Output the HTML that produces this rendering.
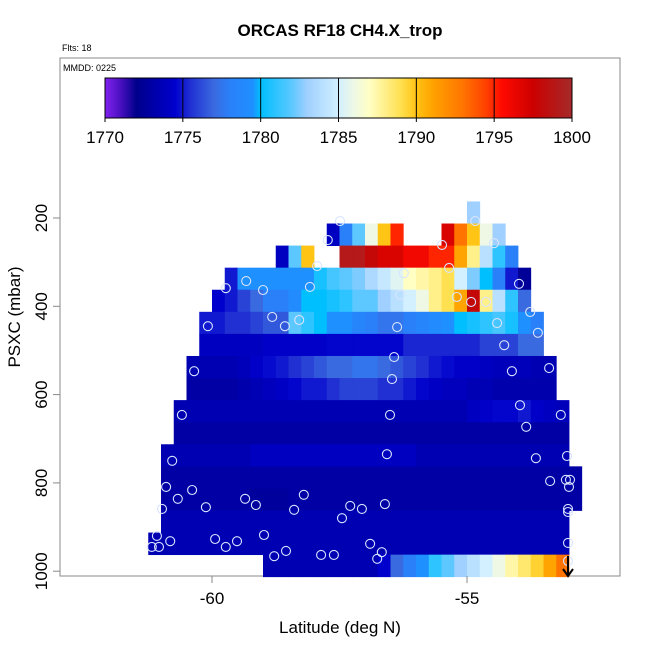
<!DOCTYPE html>
<html><head><meta charset="utf-8"><style>
body{margin:0;background:#fff;}
svg{display:block;font-family:"Liberation Sans",sans-serif;}
</style></head><body>
<svg id="chart" width="650" height="650" viewBox="0 0 650 650">
<defs><linearGradient id="cbgrad" x1="0" x2="1" y1="0" y2="0"></linearGradient></defs>
<text x="340" y="36" text-anchor="middle" font-size="17" font-weight="bold">ORCAS RF18 CH4.X_trop</text>
<text x="62" y="51" font-size="9">Flts: 18</text>
<rect x="60" y="58" width="560" height="518" fill="none" stroke="#888" stroke-width="1"/>
<text x="63" y="71" font-size="9">MMDD: 0225</text>
<g id="cells"></g>
<g id="points"></g>
<g id="colorbar"></g>
<g id="axes"></g>
<path d="M568,556 L568,575 M563,569 L568,576 L573,569" stroke="#000" stroke-width="2" fill="none"/>
<text x="340" y="633" text-anchor="middle" font-size="17">Latitude (deg N)</text>
<text transform="translate(20,317) rotate(-90)" text-anchor="middle" font-size="17">PSXC (mbar)</text>
</svg>
<script>
const xTicks=[-60,-55];
const yTicks=[200,400,600,800,1000];
const cbTicks=[1770,1775,1780,1785,1790,1795,1800];
const lonStart=-61.25, lonStep=0.25;
const pStart=162.5, pStep=50;
const rowStart=[25,14,10,6,5,4,4,3,3,2,2,1,1,1,1,0,9];
const B=1773.5, D=1773;
const rowValues=[
[1783],
[1774,1778,1782,1786,1790,1795,null,null,null,1797,1793,1790,1786,1783],
[1774,1782,1790,null,null,1799,1799,1798,1797,1797,1796,1796,1795,1795,1791,1788,1784,1781,1778],
[1775,1779.5,1779.5,1779.5,1779.5,1779.5,1779.5,1780.5,1781.5,1782,1782.5,1783.5,1784.5,1785.5,1787,1787.5,1788,1789,1785,1782.5,1780,1778,1775,1772.5],
[1774.5,1775,1776,1777,1778,1778,1779,1780,1780,1780.5,1781,1782,1782,1783,1784,1785,1786,1788,1789,1791,1798,1788,1784,1781,1777],
[1775,1775,1775.5,1775.5,1776,1776.5,1776.5,1782,1781,1780,1779.5,1779.5,1778.5,1778,1777.5,1777.5,1778,1778.5,1779,1779.5,1780,1780.5,1781,1781.5,1780.5,1779.5,1778],
[1774,1774,1774,1774,1774,1774.3,1774.3,1774.3,1774.3,1774.3,1774.6,1774.6,1774.6,1774.6,1774.6,1774.6,1775.3,1775.3,1775.3,1775.3,1775.3,1775.3,1776,1776,1776,1777,1777],
[1773.5,1773.5,1773.5,1773.5,1773.8,1774.3,1774.7,1775,1775.5,1776,1776.5,1777,1777,1777.5,1777.5,1777,1776.5,1776,1775.5,1775,1774.7,1774.3,1774.3,1774,1773.8,1773.8,1773.8,1773.5,1773.5],
[1773,1773,1773,1773,1773.3,1773.6,1773.9,1774.2,1774.6,1775,1775,1775.5,1776,1776,1776,1775.5,1775.5,1775,1774.6,1774.2,1773.9,1773.9,1773.6,1773.6,1773.3,1773.3,1773.3,1773.3,1773.3],
[B,B,B,B,B,B,B,B,B,B,B,B,B,B,B,B,B,B,B,B,B,B,B,1774,1774.3,1774.6,1774.6,1775,1774.3,1774,1773.8],
[D,D,D,D,D,D,D,D,D,D,D,D,D,D,D,D,D,D,D,D,D,D,D,D,D,D,D,D,D,D,D],
[B,B,B,B,B,B,B,1774,1774,1774,1774,1774,1774,1774,1774,1774,1774,1774,1774,1774,B,B,B,B,B,B,B,B,B,B,B,B],
[D,D,D,D,D,D,D,D,D,D,D,D,D,D,D,D,D,D,D,D,D,D,D,D,D,D,D,D,D,D,D,D,D],
[D,D,D,D,D,D,D,1772.7,1772.7,1772.7,D,D,D,D,D,D,D,D,D,D,D,D,D,D,D,D,D,D,D,D,D,D,D],
[B,B,B,B,B,B,B,B,B,B,B,B,B,B,B,B,B,B,B,B,B,B,B,B,B,B,B,B,B,B,B,B],
[B,B,B,B,B,B,B,B,B,B,B,B,B,B,B,B,B,B,B,B,B,B,B,B,B,B,B,B,B,B,B,B,B],
[B,B,B,B,B,B,B,B,B,1774.5,1777,1778,1779.5,1781,1782,1783,1784,1785,1786,1787.5,1788.5,1789.5,1791,1793]
];
const pointLon=[-57.49,-57.73,-57.94,-59.33,-59.73,-59.0,-58.08,-56.24,-55.49,-55.35,-54.84,-54.47,-53.98,-56.31,-55.20,-54.92,-54.63,-53.76,-53.61,-54.41,-60.08,-58.82,-58.57,-58.29,-56.37,-54.27,-56.43,-60.35,-54.12,-53.39,-56.47,-53.96,-60.59,-56.51,-53.16,-53.84,-60.78,-56.57,-53.65,-53.04,-60.90,-60.39,-60.67,-53.37,-53.06,-52.98,-53.0,-60.98,-60.12,-59.35,-59.14,-58.39,-58.20,-57.45,-57.29,-57.06,-56.61,-53.02,-53.02,-61.08,-60.82,-61.18,-61.04,-59.94,-59.73,-59.51,-58.98,-58.78,-58.55,-57.86,-57.61,-56.90,-56.67,-56.76,-53.02,-53.02];
const pointP=[207,250,309,343,359,363,356,325,261,313,207,257,349,374,379,390,390,413,460,438,445,424,445,431,447,488,515,547,547,540,565,624,646,646,646,673,750,735,744,739,809,816,836,796,793,793,809,859,855,836,850,861,827,880,852,859,848,859,866,920,932,945,945,927,945,932,918,966,954,963,963,938,957,972,936,977];

const stopV=[1770,1771,1772,1774.5,1775.5,1777,1778,1779.5,1780,1782,1783,1785,1786,1787,1789,1790,1791,1793,1794.5,1795.5,1797.5,1800];
const stopC=["#8022f0","#4a10c0","#00008b","#0000cd","#2030d2","#3a6ae0","#2a80f8","#1e90ff","#00bfff","#5cc8ff","#a0d0ff","#d2f0ff","#eef8e4","#ffffc4","#ffe050","#ffc414","#ffa400","#ff7400","#ff4000","#ff0a00","#cc0000","#a52a2a"];
function hex(c){return [1,3,5].map(i=>parseInt(c.substr(i,2),16));}
function color(v){
  if(v<=stopV[0])return stopC[0];
  for(let i=1;i<stopV.length;i++){if(v<=stopV[i]){const t=(v-stopV[i-1])/(stopV[i]-stopV[i-1]);const a=hex(stopC[i-1]),b=hex(stopC[i]);return "rgb("+a.map((x,k)=>Math.round(x+(b[k]-x)*t)).join(",")+")";}}
  return stopC[stopC.length-1];
}
const xs=lon=>212+(lon+60)*51;
const ys=p=>218+(p-200)*0.4415;
const NS="http://www.w3.org/2000/svg";
function mk(tag,attrs,parent){const e=document.createElementNS(NS,tag);for(const k in attrs)e.setAttribute(k,attrs[k]);parent.appendChild(e);return e;}
const cells=document.getElementById('cells');
rowValues.forEach((row,r)=>{
  const p0=pStart+r*pStep, y0=ys(p0), y1=ys(p0+pStep);
  row.forEach((v,i)=>{
    if(v===null)return;
    const l0=lonStart+(rowStart[r]+i)*lonStep;
    const x0=xs(l0), x1=xs(l0+lonStep);
    const e=mk('rect',{x:x0.toFixed(2),y:y0.toFixed(2),width:(x1-x0+0.4).toFixed(2),height:(y1-y0+0.4).toFixed(2),fill:color(v)},cells);
    
    
  });
});
const pts=document.getElementById('points');
pointLon.forEach((lon,i)=>{
  const c=mk('circle',{cx:xs(lon).toFixed(1),cy:ys(pointP[i]).toFixed(1),r:4.5,fill:'none',stroke:'#d8e4ff','stroke-width':1.1},pts);
  
  
});
// colorbar
const cb=document.getElementById('colorbar');
const cbx=v=>105+(v-1770)/30*467;
const grad=document.getElementById('cbgrad');
stopV.forEach((v,i)=>{mk('stop',{offset:((v-1770)/30).toFixed(4),'stop-color':stopC[i]},grad);});
const cbr=mk('rect',{x:105,y:78,width:467,height:40,fill:'url(#cbgrad)',stroke:'#000','stroke-width':1},cb);


cbTicks.forEach(v=>{
  const x=cbx(v);
  mk('line',{x1:x,x2:x,y1:78,y2:122,stroke:'#000','stroke-width':1},cb);
  const t=mk('text',{x:x,y:143,'text-anchor':'middle','font-size':17},cb);
  t.textContent=v;
  
  
});
// axes
const ax=document.getElementById('axes');
xTicks.forEach(v=>{
  const x=xs(v);
  mk('line',{x1:x,x2:x,y1:576,y2:583,stroke:'#888','stroke-width':1},ax);
  const t=mk('text',{x:x,y:604,'text-anchor':'middle','font-size':17},ax);
  t.textContent=v;
  
  
});
yTicks.forEach(v=>{
  const y=ys(v);
  mk('line',{x1:53,x2:60,y1:y,y2:y,stroke:'#888','stroke-width':1},ax);
  const t=mk('text',{transform:'translate(47,'+y+') rotate(-90)','text-anchor':'middle','font-size':17},ax);
  t.textContent=v;
  
  
});
</script>
</body></html>
